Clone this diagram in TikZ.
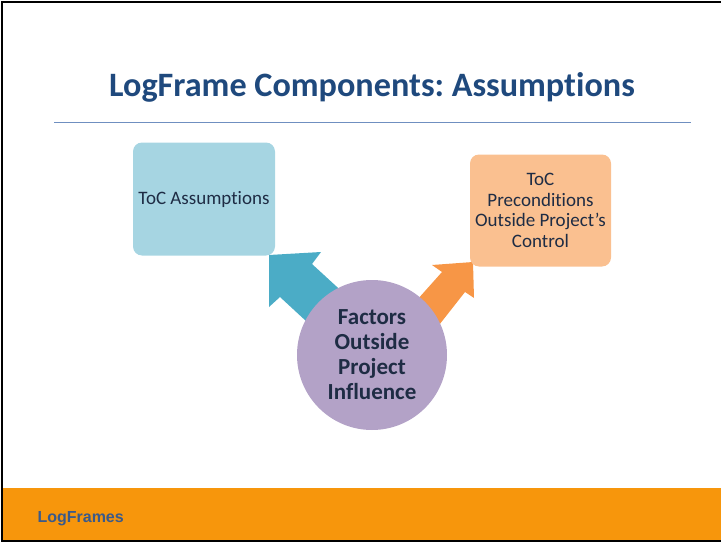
\documentclass[tikz,border=0pt]{standalone}
\usepackage{fontspec}
\setmainfont{Carlito}[Ligatures=NoCommon]
\newfontfamily\arialfont{Liberation Sans}
\frenchspacing
\definecolor{titleblue}{HTML}{1F497D}
\definecolor{rulecolor}{HTML}{6F8FC0}
\definecolor{textnavy}{HTML}{1E2C44}
\definecolor{assumblue}{HTML}{A6D5E2}
\definecolor{precpeach}{HTML}{FAC090}
\definecolor{factpurple}{HTML}{B3A2C7}
\definecolor{arrowblue}{HTML}{4BACC6}
\definecolor{arroworange}{HTML}{F79646}
\definecolor{footorange}{HTML}{F7960C}
\definecolor{footblue}{HTML}{3B5A8A}
\begin{document}
\begin{tikzpicture}[x=1pt,y=-1pt]
        \tikzstyle{tocbox}= [rounded corners=9pt, minimum width=142pt, minimum height=113pt, inner sep=0pt, align=center, text=textnavy, font=\fontsize{19}{20.5}\selectfont];
          \useasboundingbox (0,0) rectangle (721,543);

          % slide frame and footer band
          \fill[footorange] (3,488) rectangle (721,541);
          \draw[line width=2pt] (721,2) -- (2,2) -- (2,541) -- (721,541);
          \node[anchor=base west, text=footblue, font=\arialfont\bfseries\fontsize{16}{18}\selectfont] (footer) at (34,522) {LogFrames};

          % title
          \node[anchor=base, text=titleblue, font=\bfseries\fontsize{34.2}{36}\selectfont] (title) at (372,97) {LogFrame Components: Assumptions};
          \draw[rulecolor, line width=1pt] (54,123) -- (691,123);

          % block arrows
          \fill[arrowblue] (269,255) -- (321,252) -- (312,264) -- (361,309) -- (333,346) -- (280,297) -- (269,307) -- cycle;
          \fill[arroworange] (473,262) -- (474,298) -- (465,292) -- (421,348) -- (392,328) -- (442,272) -- (432,265) -- cycle;

          \node[tocbox, fill=assumblue] (assum) at (204,199) {ToC Assumptions};
          \node[tocbox, fill=precpeach, minimum width=141pt, minimum height=112pt] (precond) at (540.5,210.5) {ToC\\Preconditions\\Outside Project’s\\Control};

          \node[circle, fill=factpurple, minimum size=150pt, inner sep=0pt, align=center, text=textnavy, font=\bfseries\fontsize{23}{25}\selectfont] (factors) at (372,355) {Factors\\Outside\\Project\\Influence};
      \end{tikzpicture}
\end{document}
